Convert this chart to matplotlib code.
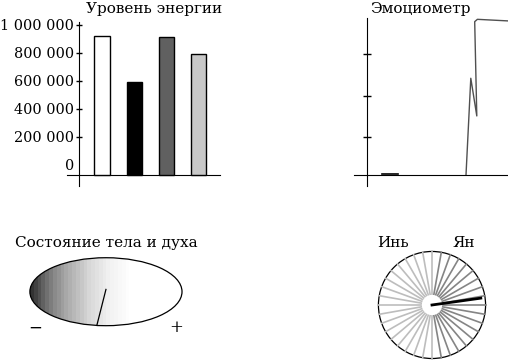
import numpy as np
import matplotlib
matplotlib.use("Agg")
import matplotlib.pyplot as plt
from matplotlib.patches import Ellipse, Circle

# --- data ---
energy_values = [921000, 595000, 911000, 793000]
energy_colors = ["#ffffff", "#000000", "#606060", "#c8c8c8"]
energy_ticks = [0, 200000, 400000, 600000, 800000, 1000000]

emo_days = [33.0, 34.6, 36.6, 35.9, 36.8, 47.5]
emo_values = [2.1, 60.4, 37.7, 94.5, 95.9, 94.9]
emo_low_days = [5.0, 10.3]
emo_low_values = [2.9, 2.9]
emo_ticks = [25, 50, 75]

# body / spirit gauge: -1 (minus) .. +1 (plus)
state_value = -0.12
gradient_levels = [0.20, 0.26, 0.32, 0.38, 0.44, 0.49, 0.54, 0.58, 0.62, 0.66,
                   0.69, 0.72, 0.75, 0.78, 0.81, 0.84, 0.86, 0.88, 0.90, 0.92,
                   0.94, 0.95, 0.96, 0.97, 0.98, 0.99, 1.0, 1.0, 1.0, 1.0,
                   1.0, 1.0, 1.0, 1.0, 1.0, 1.0, 1.0, 1.0, 1.0, 1.0]

# yin / yang wheel
spoke_angles = list(range(0, 360, 10))
yin_color = "#bdbdbd"
yang_color = "#858585"
hand_angle = 8
hand_length = 0.92

W, H = 508, 360
plt.rcParams['font.family'] = ['DejaVu Serif']
FS = 11
TICK_FS = 10.4

fig = plt.figure(figsize=(W / 100, H / 100), dpi=100)


def px_axes(left, top, right, bottom):
    return fig.add_axes([left / W, 1 - bottom / H, (right - left) / W, (bottom - top) / H])


# ---------------- energy bars ----------------
ax1 = px_axes(67, 22, 220, 186)
x = np.arange(len(energy_values))
base = -71400
ax1.bar(x, np.array(energy_values) - base, bottom=base, width=0.47,
        color=energy_colors, edgecolor="black", linewidth=1.0, zorder=3)
ax1.set_xlim(-1.087, 3.66)
ax1.set_ylim(-150000, 1021000)
for s in ["top", "right"]:
    ax1.spines[s].set_visible(False)
ax1.spines["left"].set_position(("data", -0.714))
ax1.spines["bottom"].set_position(("data", base))
ax1.set_xticks([])
ax1.set_yticks(energy_ticks)
ax1.set_yticklabels([f"{v:,}".replace(",", " ") for v in energy_ticks])
ax1.tick_params(axis="y", direction="inout", length=5, width=1, labelsize=TICK_FS, pad=1)
ax1.yaxis.get_major_ticks()[0].tick1line.set_visible(False)
fig.text(154 / W, 1 - 8.5 / H, "Уровень энергии", ha="center", va="center", fontsize=FS)

# ---------------- emotion meter ----------------
ax2 = px_axes(354, 18, 508, 186)
ax2.plot(emo_days, emo_values, color="#505050", linewidth=1.0, clip_on=False)
ax2.plot(emo_low_days, emo_low_values, color="black", linewidth=1.2)
ax2.set_xlim(-4.33, 47.0)
ax2.set_ylim(-4.5, 96.7)
for s in ["top", "right"]:
    ax2.spines[s].set_visible(False)
ax2.spines["left"].set_position(("data", 0))
ax2.spines["bottom"].set_position(("data", 2.1))
ax2.set_xticks([])
ax2.set_yticks(emo_ticks)
ax2.set_yticklabels([])
ax2.tick_params(axis="y", direction="inout", length=6, width=1)
fig.text(420.7 / W, 1 - 8.5 / H, "Эмоциометр", ha="center", va="center", fontsize=FS)

# ---------------- body / spirit gauge ----------------
ax3 = px_axes(20, 250, 190, 335)
ax3.set_xlim(-1.13, 1.105)
ax3.set_ylim(-0.57, 0.549)
ax3.axis("off")
b = 34 / 76
n = len(gradient_levels)
img = np.array(gradient_levels).reshape(1, n)
im = ax3.imshow(img, cmap="gray", vmin=0, vmax=1, aspect="auto",
                extent=[-1, -1 + n * 0.05, -b, b], interpolation="nearest")
ell = Ellipse((0, 0), 2, 2 * b, facecolor="none", edgecolor="black", linewidth=0.9)
ax3.add_patch(ell)
im.set_clip_path(ell)
tip_y = -b * np.sqrt(1 - state_value ** 2)
ax3.plot([0, state_value], [0.03, tip_y], color="black", linewidth=0.9)
ax3.text(-0.93, -0.48, "−", ha="center", va="center", fontsize=FS + 1)
ax3.text(0.917, -0.47, "+", ha="center", va="center", fontsize=FS + 1)
fig.text(15 / W, 1 - 243 / H, "Состояние тела и духа", ha="left", va="center", fontsize=FS)

# ---------------- yin / yang wheel ----------------
ax4 = px_axes(372, 248, 492, 360)
ax4.set_xlim(-1.12, 1.12)
ax4.set_ylim(-1.028, 1.065)
ax4.axis("off")
for a in spoke_angles:
    t = np.radians(a)
    c = yang_color if (a < 90 or a > 270) else yin_color
    ax4.plot([0, np.cos(t)], [0, np.sin(t)], color=c, linewidth=1.2)
ax4.add_patch(Circle((0, 0), 1, facecolor="none", edgecolor="black", linewidth=0.9))
ax4.add_patch(Circle((0, 0), 0.19, facecolor="white", edgecolor="none", zorder=3))
th = np.radians(hand_angle)
ax4.plot([0, hand_length * np.cos(th)], [0, hand_length * np.sin(th)],
         color="black", linewidth=2.0, zorder=4)
fig.text(393 / W, 1 - 243 / H, "Инь", ha="center", va="center", fontsize=FS)
fig.text(464 / W, 1 - 243 / H, "Ян", ha="center", va="center", fontsize=FS)

fig.savefig("out.png", dpi=100)
